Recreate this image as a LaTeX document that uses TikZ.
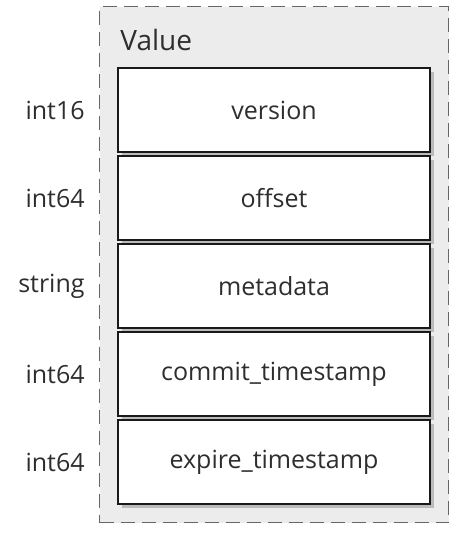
\documentclass[tikz,border=0pt]{standalone}
\usepackage{fontspec}
\setmainfont{Open Sans}
\usepackage{tikz}
\usetikzlibrary{shadows}
\usetikzlibrary{positioning}
\definecolor{textgray}{HTML}{2E2E2E}
\definecolor{panelgray}{HTML}{ECECEC}
\tikzset{
  % Common styles for the record layout
  panel/.style={draw=black!60, line width=0.7pt, dash pattern=on 7pt off 3.5pt, fill=panelgray, rectangle, inner sep=0pt},
  field/.style={draw=black!90, line width=1pt, fill=white, rectangle, minimum width=156pt, minimum height=42pt, inner sep=0pt, font=\fontsize{12.5}{15}\selectfont, text=textgray, drop shadow={shadow xshift=2pt, shadow yshift=-2pt, opacity=0.45}},
  ftype/.style={font=\fontsize{12.5}{15}\selectfont, text=textgray, inner sep=0pt}
}

\begin{document}
\begin{tikzpicture}[node distance=1pt]
    \useasboundingbox (0,0) rectangle (235pt,-275pt);

    % Place nodes
    \node [panel, anchor=north west, minimum width=174.5pt, minimum height=258pt] (panel) at (49.5pt,-3pt) {};
    \node [anchor=west, font=\fontsize{14}{16}\selectfont, text=textgray, inner sep=0pt] (title) at (60pt,-20pt) {Value};
    \node [field, anchor=north west] (version) at (58.5pt,-33.5pt) {version};
    \node [field, below=of version] (offset) {offset};
    \node [field, below=of offset] (metadata) {metadata};
    \node [field, below=of metadata] (commit) {commit\_timestamp};
    \node [field, below=of commit] (expire) {expire\_timestamp};

    % Field types
    \node [ftype, left=16pt of version] (tversion) {int16};
    \node [ftype, left=16pt of offset] (toffset) {int64};
    \node [ftype, left=16pt of metadata] (tmetadata) {string};
    \node [ftype, left=16pt of commit] (tcommit) {int64};
    \node [ftype, left=16pt of expire] (texpire) {int64};

\end{tikzpicture}
\end{document}
